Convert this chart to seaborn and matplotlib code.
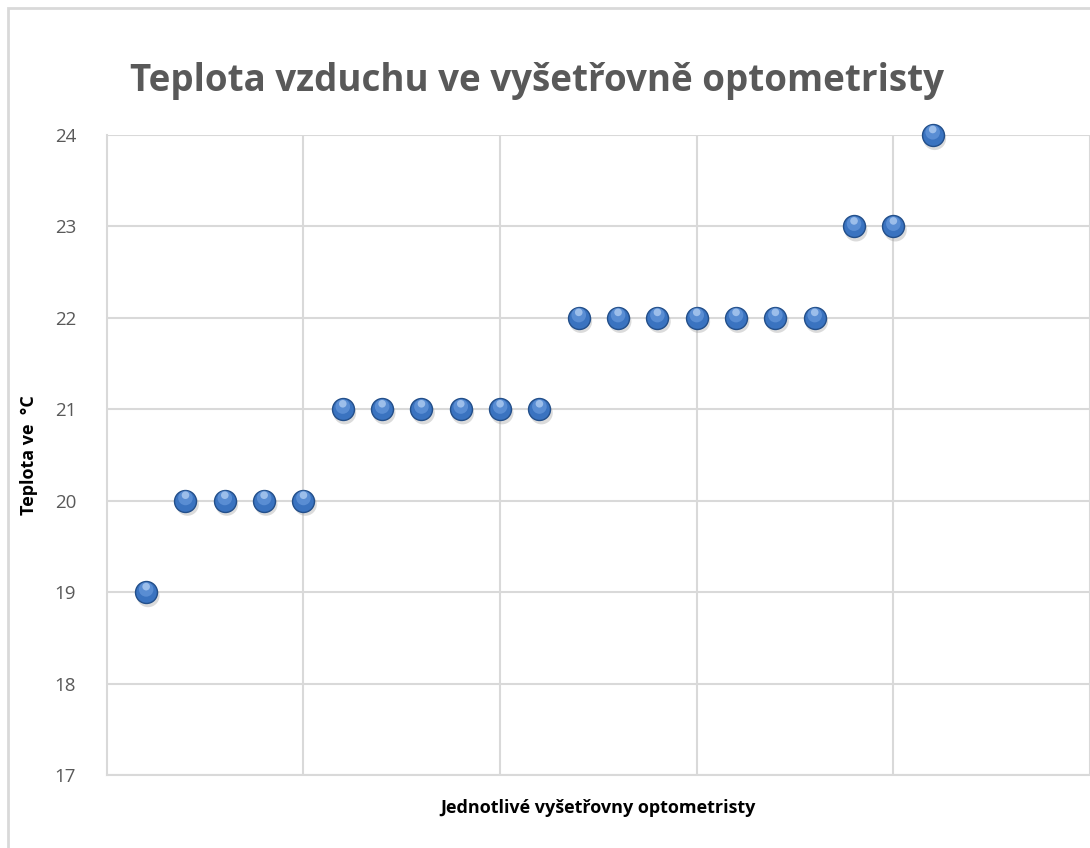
import matplotlib
matplotlib.use("Agg")
import matplotlib.pyplot as plt
import seaborn as sns
import pandas as pd
from matplotlib.patches import Rectangle

# Data
vysetrovna = list(range(1, 22))
teplota = [19, 20, 20, 20, 20, 21, 21, 21, 21, 21, 21,
           22, 22, 22, 22, 22, 22, 22, 23, 23, 24]
y_ticks = [17, 18, 19, 20, 21, 22, 23, 24]

df = pd.DataFrame({"x": vysetrovna, "y": teplota})

sns.set_style("white")
plt.rcParams['font.family'] = ['Open Sans', 'DejaVu Sans']

fig = plt.figure(figsize=(10.9, 8.48), dpi=100)
ax = fig.add_axes([0.098, 0.0861, 0.902, 0.7547])

# okraj grafu
fig.patches.append(Rectangle((8 / 1090, -0.05), 1.2, 1 - 8 / 848 + 0.05,
                             transform=fig.transFigure, fill=False,
                             edgecolor='#d9d9d9', linewidth=2))

# stín, koule, odlesk
sns.scatterplot(data=df.assign(x=df.x + 0.05, y=df.y - 0.04), x="x", y="y", ax=ax,
                s=270, color="#8a8a8a", alpha=0.3, edgecolor="none", zorder=3,
                legend=False, clip_on=False)
sns.scatterplot(data=df, x="x", y="y", ax=ax, s=250, color="#3a73c0",
                edgecolor="#234f8a", linewidth=1.0, zorder=4, legend=False, clip_on=False)
sns.scatterplot(data=df.assign(y=df.y + 0.03), x="x", y="y", ax=ax, s=110,
                color="#6f9fe0", edgecolor="none", alpha=0.6, zorder=5,
                legend=False, clip_on=False)
sns.scatterplot(data=df.assign(y=df.y + 0.06), x="x", y="y", ax=ax, s=30,
                color="#b9d3f5", edgecolor="none", alpha=0.7, zorder=6,
                legend=False, clip_on=False)

ax.set_xlim(0, 25)
ax.set_ylim(17, 24)
ax.set_xticks([5, 10, 15, 20, 25])
ax.set_xticklabels([])
ax.set_yticks(y_ticks)
ax.tick_params(axis='both', length=0)
ax.tick_params(axis='y', labelsize=13.5, labelcolor='#595959', pad=22)
ax.grid(True, color='#d9d9d9', linewidth=1.5)
ax.set_axisbelow(True)
for side in ['top', 'right']:
    ax.spines[side].set_visible(False)
for side in ['left', 'bottom']:
    ax.spines[side].set_color('#d9d9d9')
    ax.spines[side].set_linewidth(1.5)

ax.set_xlabel("Jednotlivé vyšetřovny optometristy", fontsize=13,
              fontweight='bold', color='black', labelpad=14)
ax.set_ylabel("Teplota ve  °C", fontsize=13, fontweight='bold',
              color='black', labelpad=12)
fig.text(0.493, 0.905, "Teplota vzduchu ve vyšetřovně optometristy",
         ha='center', va='center', fontsize=26.5, fontweight='bold', color='#595959')

fig.savefig("out.png", dpi=100)
